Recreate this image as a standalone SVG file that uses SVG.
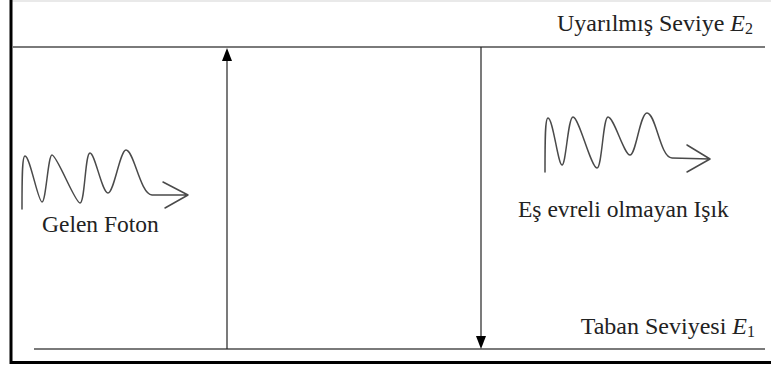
<svg xmlns="http://www.w3.org/2000/svg" width="771" height="365" viewBox="0 0 771 365">
<style>
.lvl{stroke:#7a7a7a;stroke-width:2;fill:none}
.tr{stroke:#222;stroke-width:1.2;fill:none}
.wave{stroke:#4a4a4a;stroke-width:1.5;fill:none;stroke-linecap:round;stroke-linejoin:round}
.t{font-family:'Liberation Serif','Times New Roman',serif;font-size:23.5px;fill:#222}
.lab{font-size:24px}
.it{font-style:italic}
.sub{font-size:16px}
</style>
<rect x="0" y="0" width="771" height="365" fill="#fff"/>
<g id="frame">
<line x1="12" y1="1" x2="771" y2="1" stroke="#e2e2e2" stroke-width="1.5"/>
<line x1="11" y1="0" x2="11" y2="364" stroke="#000" stroke-width="3"/>
<line x1="10" y1="362.5" x2="771" y2="362.5" stroke="#000" stroke-width="3"/>
</g>
<g id="level-e2">
<line class="lvl" x1="12" y1="47" x2="765" y2="47"/>
<text class="t lab" x="753" y="31" text-anchor="end">Uyarılmış Seviye <tspan class="it">E</tspan><tspan class="sub" dy="3">2</tspan></text>
</g>
<g id="level-e1">
<line class="lvl" x1="34" y1="349" x2="765" y2="349"/>
<text class="t lab" x="755" y="334" text-anchor="end">Taban Seviyesi <tspan class="it">E</tspan><tspan class="sub" dy="3">1</tspan></text>
</g>
<g id="connectors">
<line class="tr" x1="227" y1="349" x2="227" y2="60"/>
<path d="M222,61 L227,48 L232,61 Z" fill="#000"/>
<line class="tr" x1="481" y1="47" x2="481" y2="336"/>
<path d="M476,336 L481,349 L486,336 Z" fill="#000"/>
</g>
<g id="gelen-foton">
<path class="wave" d="M22,209 C22,180 22,156 25,156 C30,156 38,202 42,202 C46,202 48,155 52,155 C57,155 75,203 80,203 C85,203 85,153 90,153 C95,153 102,193 108,193 C114,193 120,150 126,150 C134,150 140,194 152,195 L188,195 M163,182 L188,195 L165,208"/>
<text class="t" x="42" y="232">Gelen Foton</text>
</g>
<g id="es-evreli-olmayan-isik">
<path class="wave" d="M545,172 C545,140 545,118 548,118 C553,118 558,165 562,165 C566,165 568,117 573,117 C579,117 591,168 597,168 C602,168 603,117 608,117 C614,117 624,155 630,155 C636,155 640,113 647,113 C656,113 660,158 672,158 L710,159 M687,145 L710,159 L687,172"/>
<text class="t" x="518" y="217">Eş evreli olmayan Işık</text>
</g>
</svg>
